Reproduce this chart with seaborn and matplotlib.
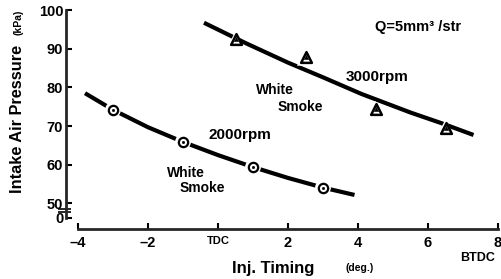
import matplotlib
matplotlib.use("Agg")
import matplotlib.pyplot as plt
import seaborn as sns

# measured points
timing_2000 = [-3, -1, 1, 3]
pressure_2000 = [74.2, 65.9, 59.4, 54.1]
timing_3000 = [0.5, 2.5, 4.5, 6.5]
pressure_3000 = [92.4, 87.8, 74.3, 69.6]

# trend curves as drawn on the original chart
curve_2000_x = [-3.8, -3.0, -2.0, -1.0, 0.0, 1.0, 2.0, 3.0, 3.9]
curve_2000_y = [78.5, 74.2, 69.7, 65.9, 62.5, 59.4, 56.6, 54.1, 52.2]
curve_3000_x = [-0.4, 0.8, 2.0, 3.0, 4.1, 5.5, 6.4, 7.3]
curve_3000_y = [96.7, 91.4, 86.4, 82.6, 78.3, 73.5, 70.7, 67.7]

x_ticks = [-4, -2, 0, 2, 4, 6, 8]
x_tick_labels = ["\u20134", "\u20132", "TDC", "2", "4", "6", "8"]
y_ticks = [100, 90, 80, 70, 60, 50, 46.3]
y_tick_labels = ["100", "90", "80", "70", "60", "50", "0"]


def make_plot():
    sns.set_style("ticks")
    plt.rcParams["font.family"] = ["Liberation Sans", "DejaVu Sans"]
    plt.rcParams["font.weight"] = "bold"
    plt.rcParams["text.color"] = "black"
    plt.rcParams["xtick.color"] = "black"
    plt.rcParams["ytick.color"] = "black"
    plt.rcParams["lines.solid_capstyle"] = "butt"

    W, H = 501, 279
    fig = plt.figure(figsize=(W / 100, H / 100), dpi=100)
    ax = fig.add_axes([66 / W, 1 - 229 / H, 434 / W, 219 / H])

    # curves
    sns.lineplot(x=curve_2000_x, y=curve_2000_y, ax=ax, color="black", lw=3, zorder=2)
    sns.lineplot(x=curve_3000_x, y=curve_3000_y, ax=ax, color="black", lw=3, zorder=2)

    # white halo so the line breaks around the markers
    sns.scatterplot(x=timing_2000, y=pressure_2000, ax=ax, s=130, color="white",
                    edgecolor="none", zorder=3)
    sns.scatterplot(x=timing_3000, y=pressure_3000, ax=ax, s=150, marker="^",
                    color="white", edgecolor="none", zorder=3)

    # 2000 rpm: dotted circles
    sns.scatterplot(x=timing_2000, y=pressure_2000, ax=ax, s=45, facecolor="white",
                    edgecolor="black", linewidth=1.6, zorder=4)
    sns.scatterplot(x=timing_2000, y=pressure_2000, ax=ax, s=4, color="black",
                    edgecolor="black", zorder=5)

    # 3000 rpm: triangles
    sns.scatterplot(x=timing_3000, y=pressure_3000, ax=ax, s=60, marker="^",
                    facecolor="white", edgecolor="black", linewidth=1.8, zorder=4)
    sns.scatterplot(x=timing_3000, y=pressure_3000, ax=ax, s=10, marker="^",
                    color="black", edgecolor="black", zorder=5)

    ax.set_xlim(-4.343, 8.057)
    ax.set_ylim(43.4, 100)
    ax.set_xticks(x_ticks)
    ax.set_xticklabels(x_tick_labels)
    ax.set_yticks(y_ticks)
    ax.set_yticklabels(y_tick_labels)
    ax.tick_params(direction="in", length=4, width=1.5, labelsize=10.5,
                   colors="black")
    ax.tick_params(axis="x", pad=5)
    ax.tick_params(axis="y", pad=2)
    for lab in ax.get_xticklabels() + ax.get_yticklabels():
        lab.set_fontweight("bold")
    ax.get_xticklabels()[2].set_fontsize(8)

    for side in ["top", "right"]:
        ax.spines[side].set_visible(False)
    ax.spines["left"].set_bounds(46.3, 100)
    ax.spines["bottom"].set_bounds(-4, 8)
    ax.spines["left"].set_linewidth(2)
    ax.spines["bottom"].set_linewidth(2)
    ax.set_xlabel("")
    ax.set_ylabel("")

    # axis break marks
    tr = ax.get_yaxis_transform()
    for yb in [48.6, 47.7]:
        ax.plot([-0.018, 0.012], [yb, yb], transform=tr, color="black", lw=1.2,
                clip_on=False)

    # annotations
    ax.text(5.71, 95.6, "Q=5mm\u00b3 /str", ha="center", va="center", fontsize=10.5)
    ax.text(4.56, 82.7, "3000rpm", ha="center", va="center", fontsize=11)
    ax.text(1.63, 79.3, "White", ha="center", va="center", fontsize=10)
    ax.text(2.34, 74.9, "Smoke", ha="center", va="center", fontsize=10)
    ax.text(0.63, 67.7, "2000rpm", ha="center", va="center", fontsize=11)
    ax.text(-0.91, 57.9, "White", ha="center", va="center", fontsize=10)
    ax.text(-0.46, 54.0, "Smoke", ha="center", va="center", fontsize=10)

    # axis titles
    fig.text(18 / W, 1 - 119 / H, "Intake Air Pressure", rotation=90,
             ha="center", va="center", fontsize=11.8, fontweight="bold")
    fig.text(18 / W, 1 - 22 / H, "(kPa)", rotation=90,
             ha="center", va="center", fontsize=7.5, fontweight="bold")
    fig.text(273 / W, 1 - 268 / H, "Inj. Timing", ha="center", va="center",
             fontsize=12, fontweight="bold")
    fig.text(360 / W, 1 - 268 / H, "(deg.)", ha="center", va="center",
             fontsize=7.5, fontweight="bold")
    fig.text(478 / W, 1 - 258 / H, "BTDC", ha="center", va="center",
             fontsize=9, fontweight="bold")

    fig.savefig("out.png", dpi=100)


if __name__ == "__main__":
    make_plot()
